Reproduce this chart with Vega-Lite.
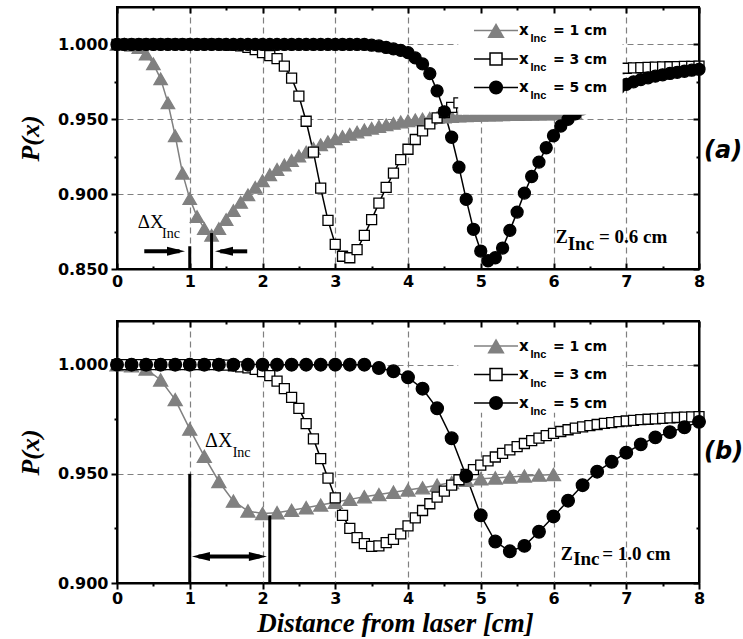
{
"$schema": "https://vega.github.io/schema/vega-lite/v6.json",
"background": "white",
"padding": {"left": 16, "top": 5, "right": 0, "bottom": 0},
"config": {
  "view": {"stroke": "black", "strokeWidth": 2},
  "axis": {"labelFont": "DejaVu Sans", "labelFontSize": 16, "labelFontWeight": "bold", "labelColor": "black", "tickColor": "black", "tickWidth": 2, "domainColor": "black", "domainWidth": 2, "gridColor": "#808080", "gridDash": [6, 4], "gridWidth": 1.2, "titleFont": "Liberation Serif", "titleFontWeight": "bold", "titleFontStyle": "italic", "titleColor": "black", "labelFlush": false, "labelOverlap": false},
  "text": {"color": "black"}
},
"datasets": {
"a": [
{"x":0,"p":1,"s":"1"},{"x":0.1,"p":1,"s":"1"},{"x":0.2,"p":0.9995,"s":"1"},{"x":0.3,"p":0.998,"s":"1"},{"x":0.4,"p":0.9935,"s":"1"},{"x":0.5,"p":0.987,"s":"1"},{"x":0.6,"p":0.977,"s":"1"},{"x":0.7,"p":0.961,"s":"1"},{"x":0.8,"p":0.939,"s":"1"},{"x":0.9,"p":0.914,"s":"1"},{"x":1,"p":0.897,"s":"1"},{"x":1.1,"p":0.885,"s":"1"},{"x":1.2,"p":0.877,"s":"1"},{"x":1.3,"p":0.8725,"s":"1"},{"x":1.4,"p":0.877,"s":"1"},{"x":1.5,"p":0.883,"s":"1"},{"x":1.6,"p":0.889,"s":"1"},{"x":1.7,"p":0.8945,"s":"1"},{"x":1.8,"p":0.8995,"s":"1"},{"x":1.9,"p":0.9045,"s":"1"},{"x":2,"p":0.909,"s":"1"},{"x":2.1,"p":0.913,"s":"1"},{"x":2.2,"p":0.9165,"s":"1"},{"x":2.3,"p":0.9195,"s":"1"},{"x":2.4,"p":0.9225,"s":"1"},{"x":2.5,"p":0.9255,"s":"1"},{"x":2.6,"p":0.928,"s":"1"},{"x":2.7,"p":0.9305,"s":"1"},{"x":2.8,"p":0.933,"s":"1"},{"x":2.9,"p":0.935,"s":"1"},{"x":3,"p":0.937,"s":"1"},{"x":3.1,"p":0.9385,"s":"1"},{"x":3.2,"p":0.94,"s":"1"},{"x":3.3,"p":0.9415,"s":"1"},{"x":3.4,"p":0.943,"s":"1"},{"x":3.5,"p":0.944,"s":"1"},{"x":3.6,"p":0.9452,"s":"1"},{"x":3.7,"p":0.9463,"s":"1"},{"x":3.8,"p":0.9473,"s":"1"},{"x":3.9,"p":0.9482,"s":"1"},{"x":4,"p":0.949,"s":"1"},{"x":4.1,"p":0.9496,"s":"1"},{"x":4.2,"p":0.9502,"s":"1"},{"x":4.3,"p":0.9507,"s":"1"},{"x":4.4,"p":0.9511,"s":"1"},{"x":4.5,"p":0.9515,"s":"1"},{"x":4.6,"p":0.9518,"s":"1"},{"x":4.7,"p":0.9521,"s":"1"},{"x":4.8,"p":0.9523,"s":"1"},{"x":4.9,"p":0.9525,"s":"1"},{"x":5,"p":0.9527,"s":"1"},{"x":5.1,"p":0.9528,"s":"1"},{"x":5.2,"p":0.9529,"s":"1"},{"x":5.3,"p":0.953,"s":"1"},{"x":5.4,"p":0.9531,"s":"1"},{"x":5.5,"p":0.9532,"s":"1"},{"x":5.6,"p":0.9533,"s":"1"},{"x":5.7,"p":0.9534,"s":"1"},{"x":5.8,"p":0.9535,"s":"1"},{"x":5.9,"p":0.9535,"s":"1"},{"x":6,"p":0.9536,"s":"1"},{"x":6.1,"p":0.9537,"s":"1"},{"x":6.2,"p":0.9537,"s":"1"},{"x":6.3,"p":0.9538,"s":"1"},
{"x":0,"p":1,"s":"3"},{"x":0.1,"p":1,"s":"3"},{"x":0.2,"p":1,"s":"3"},{"x":0.3,"p":1,"s":"3"},{"x":0.4,"p":1,"s":"3"},{"x":0.5,"p":1,"s":"3"},{"x":0.6,"p":1,"s":"3"},{"x":0.7,"p":1,"s":"3"},{"x":0.8,"p":1,"s":"3"},{"x":0.9,"p":1,"s":"3"},{"x":1,"p":1,"s":"3"},{"x":1.1,"p":1,"s":"3"},{"x":1.2,"p":1,"s":"3"},{"x":1.3,"p":1,"s":"3"},{"x":1.4,"p":1,"s":"3"},{"x":1.5,"p":0.9998,"s":"3"},{"x":1.6,"p":0.9995,"s":"3"},{"x":1.7,"p":0.999,"s":"3"},{"x":1.8,"p":0.998,"s":"3"},{"x":1.9,"p":0.9965,"s":"3"},{"x":2,"p":0.9945,"s":"3"},{"x":2.1,"p":0.9925,"s":"3"},{"x":2.2,"p":0.9905,"s":"3"},{"x":2.3,"p":0.9855,"s":"3"},{"x":2.4,"p":0.9775,"s":"3"},{"x":2.5,"p":0.9655,"s":"3"},{"x":2.6,"p":0.9487,"s":"3"},{"x":2.7,"p":0.928,"s":"3"},{"x":2.8,"p":0.904,"s":"3"},{"x":2.9,"p":0.8825,"s":"3"},{"x":3,"p":0.8665,"s":"3"},{"x":3.1,"p":0.8585,"s":"3"},{"x":3.2,"p":0.8575,"s":"3"},{"x":3.3,"p":0.863,"s":"3"},{"x":3.4,"p":0.8725,"s":"3"},{"x":3.5,"p":0.883,"s":"3"},{"x":3.6,"p":0.894,"s":"3"},{"x":3.7,"p":0.9045,"s":"3"},{"x":3.8,"p":0.914,"s":"3"},{"x":3.9,"p":0.923,"s":"3"},{"x":4,"p":0.93,"s":"3"},{"x":4.1,"p":0.9365,"s":"3"},{"x":4.2,"p":0.9422,"s":"3"},{"x":4.3,"p":0.947,"s":"3"},{"x":4.4,"p":0.951,"s":"3"},{"x":4.5,"p":0.9545,"s":"3"},{"x":4.6,"p":0.958,"s":"3"},{"x":4.7,"p":0.961,"s":"3"},{"x":4.8,"p":0.9635,"s":"3"},{"x":4.9,"p":0.966,"s":"3"},{"x":5,"p":0.968,"s":"3"},{"x":5.1,"p":0.97,"s":"3"},{"x":5.2,"p":0.9717,"s":"3"},{"x":5.3,"p":0.9732,"s":"3"},{"x":5.4,"p":0.9746,"s":"3"},{"x":5.5,"p":0.9759,"s":"3"},{"x":5.6,"p":0.977,"s":"3"},{"x":5.7,"p":0.978,"s":"3"},{"x":5.8,"p":0.9789,"s":"3"},{"x":5.9,"p":0.9797,"s":"3"},{"x":6,"p":0.9804,"s":"3"},{"x":6.1,"p":0.981,"s":"3"},{"x":6.2,"p":0.9816,"s":"3"},{"x":6.3,"p":0.9821,"s":"3"},{"x":6.4,"p":0.9825,"s":"3"},{"x":6.5,"p":0.9829,"s":"3"},{"x":6.6,"p":0.9832,"s":"3"},{"x":6.7,"p":0.9835,"s":"3"},{"x":6.8,"p":0.9837,"s":"3"},{"x":6.9,"p":0.9839,"s":"3"},{"x":7,"p":0.9841,"s":"3"},{"x":7.1,"p":0.9843,"s":"3"},{"x":7.2,"p":0.9845,"s":"3"},{"x":7.3,"p":0.9847,"s":"3"},{"x":7.4,"p":0.9849,"s":"3"},{"x":7.5,"p":0.985,"s":"3"},{"x":7.6,"p":0.9851,"s":"3"},{"x":7.7,"p":0.9852,"s":"3"},{"x":7.8,"p":0.9853,"s":"3"},{"x":7.9,"p":0.9854,"s":"3"},{"x":8,"p":0.9855,"s":"3"},
{"x":0,"p":1,"s":"5"},{"x":0.1,"p":1,"s":"5"},{"x":0.2,"p":1,"s":"5"},{"x":0.3,"p":1,"s":"5"},{"x":0.4,"p":1,"s":"5"},{"x":0.5,"p":1,"s":"5"},{"x":0.6,"p":1,"s":"5"},{"x":0.7,"p":1,"s":"5"},{"x":0.8,"p":1,"s":"5"},{"x":0.9,"p":1,"s":"5"},{"x":1,"p":1,"s":"5"},{"x":1.1,"p":1,"s":"5"},{"x":1.2,"p":1,"s":"5"},{"x":1.3,"p":1,"s":"5"},{"x":1.4,"p":1,"s":"5"},{"x":1.5,"p":1,"s":"5"},{"x":1.6,"p":1,"s":"5"},{"x":1.7,"p":1,"s":"5"},{"x":1.8,"p":1,"s":"5"},{"x":1.9,"p":1,"s":"5"},{"x":2,"p":1,"s":"5"},{"x":2.1,"p":1,"s":"5"},{"x":2.2,"p":1,"s":"5"},{"x":2.3,"p":1,"s":"5"},{"x":2.4,"p":1,"s":"5"},{"x":2.5,"p":1,"s":"5"},{"x":2.6,"p":1,"s":"5"},{"x":2.7,"p":1,"s":"5"},{"x":2.8,"p":1,"s":"5"},{"x":2.9,"p":1,"s":"5"},{"x":3,"p":1,"s":"5"},{"x":3.1,"p":1,"s":"5"},{"x":3.2,"p":1,"s":"5"},{"x":3.3,"p":1,"s":"5"},{"x":3.4,"p":1,"s":"5"},{"x":3.5,"p":0.9995,"s":"5"},{"x":3.6,"p":0.999,"s":"5"},{"x":3.7,"p":0.998,"s":"5"},{"x":3.8,"p":0.997,"s":"5"},{"x":3.9,"p":0.996,"s":"5"},{"x":4,"p":0.9945,"s":"5"},{"x":4.1,"p":0.991,"s":"5"},{"x":4.2,"p":0.987,"s":"5"},{"x":4.3,"p":0.9805,"s":"5"},{"x":4.4,"p":0.969,"s":"5"},{"x":4.5,"p":0.955,"s":"5"},{"x":4.6,"p":0.938,"s":"5"},{"x":4.7,"p":0.918,"s":"5"},{"x":4.8,"p":0.8965,"s":"5"},{"x":4.9,"p":0.8765,"s":"5"},{"x":5,"p":0.862,"s":"5"},{"x":5.1,"p":0.8555,"s":"5"},{"x":5.2,"p":0.8575,"s":"5"},{"x":5.3,"p":0.864,"s":"5"},{"x":5.4,"p":0.8758,"s":"5"},{"x":5.5,"p":0.888,"s":"5"},{"x":5.6,"p":0.9007,"s":"5"},{"x":5.7,"p":0.9118,"s":"5"},{"x":5.8,"p":0.9214,"s":"5"},{"x":5.9,"p":0.931,"s":"5"},{"x":6,"p":0.939,"s":"5"},{"x":6.1,"p":0.9455,"s":"5"},{"x":6.2,"p":0.95,"s":"5"},{"x":6.3,"p":0.9536,"s":"5"},{"x":6.4,"p":0.957,"s":"5"},{"x":6.5,"p":0.96,"s":"5"},{"x":6.6,"p":0.963,"s":"5"},{"x":6.7,"p":0.966,"s":"5"},{"x":6.8,"p":0.9685,"s":"5"},{"x":6.9,"p":0.971,"s":"5"},{"x":7,"p":0.9733,"s":"5"},{"x":7.1,"p":0.975,"s":"5"},{"x":7.2,"p":0.9765,"s":"5"},{"x":7.3,"p":0.9777,"s":"5"},{"x":7.4,"p":0.9788,"s":"5"},{"x":7.5,"p":0.9797,"s":"5"},{"x":7.6,"p":0.9806,"s":"5"},{"x":7.7,"p":0.9814,"s":"5"},{"x":7.8,"p":0.9821,"s":"5"},{"x":7.9,"p":0.9828,"s":"5"},{"x":8,"p":0.9834,"s":"5"}
],
"b": [
{"x":0,"p":1,"s":"1"},{"x":0.2,"p":0.9995,"s":"1"},{"x":0.4,"p":0.998,"s":"1"},{"x":0.6,"p":0.993,"s":"1"},{"x":0.8,"p":0.984,"s":"1"},{"x":1,"p":0.9705,"s":"1"},{"x":1.2,"p":0.958,"s":"1"},{"x":1.4,"p":0.9465,"s":"1"},{"x":1.6,"p":0.9375,"s":"1"},{"x":1.8,"p":0.933,"s":"1"},{"x":2,"p":0.9318,"s":"1"},{"x":2.2,"p":0.9322,"s":"1"},{"x":2.4,"p":0.9333,"s":"1"},{"x":2.6,"p":0.9345,"s":"1"},{"x":2.8,"p":0.9357,"s":"1"},{"x":3,"p":0.937,"s":"1"},{"x":3.2,"p":0.9383,"s":"1"},{"x":3.4,"p":0.9395,"s":"1"},{"x":3.6,"p":0.9405,"s":"1"},{"x":3.8,"p":0.9416,"s":"1"},{"x":4,"p":0.9426,"s":"1"},{"x":4.2,"p":0.9436,"s":"1"},{"x":4.4,"p":0.9448,"s":"1"},{"x":4.6,"p":0.946,"s":"1"},{"x":4.8,"p":0.947,"s":"1"},{"x":5,"p":0.9477,"s":"1"},{"x":5.2,"p":0.9481,"s":"1"},{"x":5.4,"p":0.9485,"s":"1"},{"x":5.6,"p":0.949,"s":"1"},{"x":5.8,"p":0.9494,"s":"1"},{"x":6,"p":0.9497,"s":"1"},
{"x":0,"p":1,"s":"3"},{"x":0.1,"p":1,"s":"3"},{"x":0.2,"p":1,"s":"3"},{"x":0.3,"p":1,"s":"3"},{"x":0.4,"p":1,"s":"3"},{"x":0.5,"p":1,"s":"3"},{"x":0.6,"p":1,"s":"3"},{"x":0.7,"p":1,"s":"3"},{"x":0.8,"p":1,"s":"3"},{"x":0.9,"p":1,"s":"3"},{"x":1,"p":1,"s":"3"},{"x":1.1,"p":1,"s":"3"},{"x":1.2,"p":1,"s":"3"},{"x":1.3,"p":1,"s":"3"},{"x":1.4,"p":1,"s":"3"},{"x":1.5,"p":0.9998,"s":"3"},{"x":1.6,"p":0.9995,"s":"3"},{"x":1.7,"p":0.999,"s":"3"},{"x":1.8,"p":0.9985,"s":"3"},{"x":1.9,"p":0.9978,"s":"3"},{"x":2,"p":0.9968,"s":"3"},{"x":2.1,"p":0.995,"s":"3"},{"x":2.2,"p":0.9925,"s":"3"},{"x":2.3,"p":0.989,"s":"3"},{"x":2.4,"p":0.985,"s":"3"},{"x":2.5,"p":0.98,"s":"3"},{"x":2.6,"p":0.973,"s":"3"},{"x":2.7,"p":0.966,"s":"3"},{"x":2.8,"p":0.957,"s":"3"},{"x":2.9,"p":0.948,"s":"3"},{"x":3,"p":0.939,"s":"3"},{"x":3.1,"p":0.931,"s":"3"},{"x":3.2,"p":0.925,"s":"3"},{"x":3.3,"p":0.9208,"s":"3"},{"x":3.4,"p":0.918,"s":"3"},{"x":3.5,"p":0.9168,"s":"3"},{"x":3.6,"p":0.917,"s":"3"},{"x":3.7,"p":0.9185,"s":"3"},{"x":3.8,"p":0.92,"s":"3"},{"x":3.9,"p":0.9225,"s":"3"},{"x":4,"p":0.9262,"s":"3"},{"x":4.1,"p":0.9298,"s":"3"},{"x":4.2,"p":0.9332,"s":"3"},{"x":4.3,"p":0.9363,"s":"3"},{"x":4.4,"p":0.9393,"s":"3"},{"x":4.5,"p":0.9421,"s":"3"},{"x":4.6,"p":0.9448,"s":"3"},{"x":4.7,"p":0.9473,"s":"3"},{"x":4.8,"p":0.9497,"s":"3"},{"x":4.9,"p":0.9519,"s":"3"},{"x":5,"p":0.954,"s":"3"},{"x":5.1,"p":0.9559,"s":"3"},{"x":5.2,"p":0.9577,"s":"3"},{"x":5.3,"p":0.9594,"s":"3"},{"x":5.4,"p":0.961,"s":"3"},{"x":5.5,"p":0.9625,"s":"3"},{"x":5.6,"p":0.9639,"s":"3"},{"x":5.7,"p":0.9652,"s":"3"},{"x":5.8,"p":0.9664,"s":"3"},{"x":5.9,"p":0.9675,"s":"3"},{"x":6,"p":0.9685,"s":"3"},{"x":6.1,"p":0.9694,"s":"3"},{"x":6.2,"p":0.9702,"s":"3"},{"x":6.3,"p":0.9709,"s":"3"},{"x":6.4,"p":0.9715,"s":"3"},{"x":6.5,"p":0.9721,"s":"3"},{"x":6.6,"p":0.9726,"s":"3"},{"x":6.7,"p":0.9731,"s":"3"},{"x":6.8,"p":0.9735,"s":"3"},{"x":6.9,"p":0.9739,"s":"3"},{"x":7,"p":0.9742,"s":"3"},{"x":7.1,"p":0.9745,"s":"3"},{"x":7.2,"p":0.9748,"s":"3"},{"x":7.3,"p":0.975,"s":"3"},{"x":7.4,"p":0.9752,"s":"3"},{"x":7.5,"p":0.9754,"s":"3"},{"x":7.6,"p":0.9756,"s":"3"},{"x":7.7,"p":0.9758,"s":"3"},{"x":7.8,"p":0.976,"s":"3"},{"x":7.9,"p":0.9761,"s":"3"},{"x":8,"p":0.9762,"s":"3"},
{"x":0,"p":1,"s":"5"},{"x":0.2,"p":1,"s":"5"},{"x":0.4,"p":1,"s":"5"},{"x":0.6,"p":1,"s":"5"},{"x":0.8,"p":1,"s":"5"},{"x":1,"p":1,"s":"5"},{"x":1.2,"p":1,"s":"5"},{"x":1.4,"p":1,"s":"5"},{"x":1.6,"p":1,"s":"5"},{"x":1.8,"p":1,"s":"5"},{"x":2,"p":1,"s":"5"},{"x":2.2,"p":1,"s":"5"},{"x":2.4,"p":1,"s":"5"},{"x":2.6,"p":1,"s":"5"},{"x":2.8,"p":1,"s":"5"},{"x":3,"p":1,"s":"5"},{"x":3.2,"p":1,"s":"5"},{"x":3.4,"p":1,"s":"5"},{"x":3.6,"p":0.9985,"s":"5"},{"x":3.8,"p":0.997,"s":"5"},{"x":4,"p":0.9942,"s":"5"},{"x":4.2,"p":0.989,"s":"5"},{"x":4.4,"p":0.98,"s":"5"},{"x":4.6,"p":0.9663,"s":"5"},{"x":4.8,"p":0.949,"s":"5"},{"x":5,"p":0.931,"s":"5"},{"x":5.2,"p":0.919,"s":"5"},{"x":5.4,"p":0.9145,"s":"5"},{"x":5.6,"p":0.917,"s":"5"},{"x":5.8,"p":0.9235,"s":"5"},{"x":6,"p":0.9305,"s":"5"},{"x":6.2,"p":0.9377,"s":"5"},{"x":6.4,"p":0.9448,"s":"5"},{"x":6.6,"p":0.951,"s":"5"},{"x":6.8,"p":0.9555,"s":"5"},{"x":7,"p":0.9597,"s":"5"},{"x":7.2,"p":0.9635,"s":"5"},{"x":7.4,"p":0.9667,"s":"5"},{"x":7.6,"p":0.9691,"s":"5"},{"x":7.8,"p":0.9713,"s":"5"},{"x":8,"p":0.9738,"s":"5"}
]
},
"spacing": 52,
"bounds": "flush",
"vconcat": [
{
  "width": 582, "height": 262,
  "data": {"name": "a"},
  "resolve": {"axis": {"x": "independent", "y": "independent"}},
  "layer": [
    {"mark": {"type": "line", "strokeWidth": 1.5},
     "encoding": {
       "x": {"field": "x", "type": "quantitative", "scale": {"domain": [0, 8], "nice": false},
             "axis": {"orient": "bottom", "values": [0,0.5,1,1.5,2,2.5,3,3.5,4,4.5,5,5.5,6,6.5,7,7.5,8], "labelExpr": "datum.value % 1 === 0 ? format(datum.value, 'd') : ''", "tickSize": {"condition": {"test": "datum.value % 1 === 0", "value": -6}, "value": -3}, "labelPadding": 10, "grid": true, "gridOpacity": {"condition": {"test": "datum.value % 1 === 0 && datum.value > 0 && datum.value < 8", "value": 1}, "value": 0}, "title": null}},
       "y": {"field": "p", "type": "quantitative", "scale": {"domain": [0.85, 1.025], "nice": false, "zero": false},
             "axis": {"orient": "left", "values": [0.85,0.875,0.9,0.925,0.95,0.975,1.0], "labelExpr": "abs(datum.value*20 - round(datum.value*20)) < 0.01 ? format(datum.value, '.3f') : ''", "tickSize": {"condition": {"test": "abs(datum.value*20 - round(datum.value*20)) < 0.01", "value": 6}, "value": 3}, "labelPadding": 3, "grid": true, "gridOpacity": {"condition": {"test": "abs(datum.value*20 - round(datum.value*20)) < 0.01 && datum.value > 0.86", "value": 1}, "value": 0}, "title": "P(x)", "titleFontSize": 26, "titlePadding": 14}},
       "detail": {"field": "s", "type": "nominal"},
       "stroke": {"condition": {"test": "datum.s === '1'", "value": "#808080"}, "value": "#000000"}
     }},
    {"mark": {"type": "point", "opacity": 1, "fillOpacity": 1, "strokeWidth": 1.3},
     "encoding": {
       "x": {"field": "x", "type": "quantitative", "scale": {"domain": [0, 8], "nice": false},
             "axis": {"orient": "top", "values": [0,0.5,1,1.5,2,2.5,3,3.5,4,4.5,5,5.5,6,6.5,7,7.5,8], "labels": false, "tickSize": {"condition": {"test": "datum.value % 1 === 0", "value": -6}, "value": -3}, "grid": false, "title": null, "zindex": 1}},
       "y": {"field": "p", "type": "quantitative", "scale": {"domain": [0.85, 1.025], "nice": false, "zero": false},
             "axis": {"orient": "right", "values": [0.85,0.875,0.9,0.925,0.95,0.975,1.0], "labels": false, "tickSize": {"condition": {"test": "abs(datum.value*20 - round(datum.value*20)) < 0.01", "value": -6}, "value": -3}, "grid": false, "title": null, "zindex": 1}},
       "shape": {"field": "s", "type": "nominal", "scale": {"domain": ["1","3","5"], "range": ["triangle-up","square","circle"]}, "legend": null},
       "fill": {"condition": [{"test": "datum.s === '1'", "value": "#808080"}, {"test": "datum.s === '3'", "value": "#ffffff"}], "value": "#000000"},
       "stroke": {"condition": {"test": "datum.s === '1'", "value": "#808080"}, "value": "#000000"},
       "size": {"condition": [{"test": "datum.s === '1'", "value": 180}, {"test": "datum.s === '3'", "value": 100}], "value": 144}
     }},
    {"data": {"values": [{}]},
     "mark": {"type": "rect", "fill": "white"},
     "encoding": {
       "x": {"datum": 4.69, "type": "quantitative", "scale": {"domain": [0, 8], "nice": false}, "axis": null},
       "x2": {"datum": 6.95},
       "y": {"datum": 0.953, "type": "quantitative", "scale": {"domain": [0.85, 1.025], "nice": false, "zero": false}, "axis": null},
       "y2": {"datum": 1.025}
     }},
    {"data": {"values": [{}]}, "mark": {"type": "rule", "strokeWidth": 1.5, "color": "#808080"},
     "encoding": {"x": {"datum": 4.907, "type": "quantitative", "axis": null}, "x2": {"datum": 5.512}, "y": {"datum": 1.0093, "type": "quantitative", "axis": null}}},
    {"data": {"values": [{}]}, "mark": {"type": "rule", "strokeWidth": 1.5, "color": "#000000"},
     "encoding": {"x": {"datum": 4.907, "type": "quantitative", "axis": null}, "x2": {"datum": 5.512}, "y": {"datum": 0.99027, "type": "quantitative", "axis": null}}},
    {"data": {"values": [{}]}, "mark": {"type": "rule", "strokeWidth": 1.5, "color": "#000000"},
     "encoding": {"x": {"datum": 4.907, "type": "quantitative", "axis": null}, "x2": {"datum": 5.512}, "y": {"datum": 0.97123, "type": "quantitative", "axis": null}}},
    {"data": {"values": [{}]}, "mark": {"type": "point", "shape": "triangle-up", "size": 300, "filled": true, "color": "#808080", "opacity": 1},
     "encoding": {"x": {"datum": 5.21, "type": "quantitative", "axis": null}, "y": {"datum": 1.0093, "type": "quantitative", "axis": null}}},
    {"data": {"values": [{}]}, "mark": {"type": "point", "shape": "square", "size": 144, "fill": "#ffffff", "stroke": "#000000", "strokeWidth": 1.5, "opacity": 1, "fillOpacity": 1},
     "encoding": {"x": {"datum": 5.21, "type": "quantitative", "axis": null}, "y": {"datum": 0.99027, "type": "quantitative", "axis": null}}},
    {"data": {"values": [{}]}, "mark": {"type": "point", "shape": "circle", "size": 200, "filled": true, "color": "#000000", "opacity": 1},
     "encoding": {"x": {"datum": 5.21, "type": "quantitative", "axis": null}, "y": {"datum": 0.97123, "type": "quantitative", "axis": null}}},
    {"data": {"values": [{}]},
     "mark": {"type": "text", "text": ["x", "x", "x"], "lineHeight": 28.5, "font": "DejaVu Sans", "fontWeight": "bold", "fontSize": 15, "align": "left", "baseline": "alphabetic"},
     "encoding": {"x": {"datum": 5.526, "type": "quantitative", "axis": null}, "y": {"datum": 1.006, "type": "quantitative", "axis": null}}},
    {"data": {"values": [{}]},
     "mark": {"type": "text", "text": ["Inc", "Inc", "Inc"], "lineHeight": 28.5, "font": "Liberation Sans", "fontWeight": "bold", "fontSize": 11, "align": "left", "baseline": "alphabetic"},
     "encoding": {"x": {"datum": 5.684, "type": "quantitative", "axis": null}, "y": {"datum": 1.0013, "type": "quantitative", "axis": null}}},
    {"data": {"values": [{}]},
     "mark": {"type": "text", "text": ["= 1 cm", "= 3 cm", "= 5 cm"], "lineHeight": 28.5, "font": "DejaVu Sans", "fontWeight": "bold", "fontSize": 14, "align": "left", "baseline": "alphabetic"},
     "encoding": {"x": {"datum": 5.993, "type": "quantitative", "axis": null}, "y": {"datum": 1.006, "type": "quantitative", "axis": null}}},
    {"data": {"values": [{}]},
     "mark": {"type": "text", "text": "ΔX", "font": "Liberation Serif", "fontSize": 19, "align": "left", "baseline": "alphabetic"},
     "encoding": {"x": {"datum": 0.285, "type": "quantitative", "axis": null}, "y": {"datum": 0.8771, "type": "quantitative", "axis": null}}},
    {"data": {"values": [{}]},
     "mark": {"type": "text", "text": "Inc", "font": "Liberation Serif", "fontSize": 14, "align": "left", "baseline": "alphabetic"},
     "encoding": {"x": {"datum": 0.62, "type": "quantitative", "axis": null}, "y": {"datum": 0.8704, "type": "quantitative", "axis": null}}},
    {"data": {"values": [{}]},
     "mark": {"type": "rule", "strokeWidth": 4, "color": "black"},
     "encoding": {"x": {"datum": 0.375, "type": "quantitative", "axis": null}, "x2": {"datum": 0.86}, "y": {"datum": 0.8618, "type": "quantitative", "axis": null}}},
    {"data": {"values": [{}]},
     "mark": {"type": "point", "shape": "M0,0L-6,-1.5L-6,1.5Z", "size": 36, "filled": true, "fill": "black", "strokeWidth": 0, "opacity": 1},
     "encoding": {"x": {"datum": 0.935, "type": "quantitative", "axis": null}, "y": {"datum": 0.8618, "type": "quantitative", "axis": null}}},
    {"data": {"values": [{}]},
     "mark": {"type": "rule", "strokeWidth": 4, "color": "black"},
     "encoding": {"x": {"datum": 1.42, "type": "quantitative", "axis": null}, "x2": {"datum": 1.79}, "y": {"datum": 0.8618, "type": "quantitative", "axis": null}}},
    {"data": {"values": [{}]},
     "mark": {"type": "point", "shape": "M0,0L6,-1.5L6,1.5Z", "size": 36, "filled": true, "fill": "black", "strokeWidth": 0, "opacity": 1},
     "encoding": {"x": {"datum": 1.347, "type": "quantitative", "axis": null}, "y": {"datum": 0.8618, "type": "quantitative", "axis": null}}},
    {"data": {"values": [{}]},
     "mark": {"type": "rule", "strokeWidth": 3, "color": "black"},
     "encoding": {"x": {"datum": 1.0, "type": "quantitative", "axis": null}, "y": {"datum": 0.85, "type": "quantitative", "axis": null}, "y2": {"datum": 0.8652}}},
    {"data": {"values": [{}]},
     "mark": {"type": "rule", "strokeWidth": 3, "color": "black"},
     "encoding": {"x": {"datum": 1.3, "type": "quantitative", "axis": null}, "y": {"datum": 0.85, "type": "quantitative", "axis": null}, "y2": {"datum": 0.874}}},
    {"data": {"values": [{}]},
     "mark": {"type": "text", "text": "Z", "font": "Liberation Serif", "fontWeight": "bold", "fontSize": 18, "align": "left", "baseline": "alphabetic"},
     "encoding": {"x": {"datum": 6.03, "type": "quantitative", "axis": null}, "y": {"datum": 0.8671, "type": "quantitative", "axis": null}}},
    {"data": {"values": [{}]},
     "mark": {"type": "text", "text": "Inc", "font": "Liberation Serif", "fontWeight": "bold", "fontSize": 19, "align": "left", "baseline": "alphabetic"},
     "encoding": {"x": {"datum": 6.195, "type": "quantitative", "axis": null}, "y": {"datum": 0.8625, "type": "quantitative", "axis": null}}},
    {"data": {"values": [{}]},
     "mark": {"type": "text", "text": "= 0.6 cm", "font": "Liberation Serif", "fontWeight": "bold", "fontSize": 19, "align": "left", "baseline": "alphabetic"},
     "encoding": {"x": {"datum": 6.625, "type": "quantitative", "axis": null}, "y": {"datum": 0.8671, "type": "quantitative", "axis": null}}},
    {"data": {"values": [{}]},
     "mark": {"type": "text", "text": "(a)", "font": "DejaVu Sans", "fontWeight": "bold", "fontStyle": "italic", "fontSize": 24, "align": "left", "baseline": "middle", "dx": 5},
     "encoding": {"x": {"datum": 8, "type": "quantitative", "axis": null}, "y": {"datum": 0.9291, "type": "quantitative", "axis": null}}}
  ]
},
{
  "width": 582, "height": 262,
  "data": {"name": "b"},
  "resolve": {"axis": {"x": "independent", "y": "independent"}},
  "layer": [
    {"mark": {"type": "line", "strokeWidth": 1.5},
     "encoding": {
       "x": {"field": "x", "type": "quantitative", "scale": {"domain": [0, 8], "nice": false},
             "axis": {"orient": "bottom", "values": [0,0.5,1,1.5,2,2.5,3,3.5,4,4.5,5,5.5,6,6.5,7,7.5,8], "labelExpr": "datum.value % 1 === 0 ? format(datum.value, 'd') : ''", "tickSize": {"condition": {"test": "datum.value % 1 === 0", "value": 6}, "value": 3}, "labelPadding": 1, "grid": true, "gridOpacity": {"condition": {"test": "datum.value % 1 === 0 && datum.value > 0 && datum.value < 8", "value": 1}, "value": 0}, "title": "Distance from laser [cm]", "titleFontSize": 27, "titlePadding": 4, "titleX": 278}},
       "y": {"field": "p", "type": "quantitative", "scale": {"domain": [0.9, 1.02], "nice": false, "zero": false},
             "axis": {"orient": "left", "values": [0.9,0.925,0.95,0.975,1.0], "labelExpr": "abs(datum.value*20 - round(datum.value*20)) < 0.01 ? format(datum.value, '.3f') : ''", "tickSize": {"condition": {"test": "abs(datum.value*20 - round(datum.value*20)) < 0.01", "value": 6}, "value": 3}, "labelPadding": 3, "grid": true, "gridOpacity": {"condition": {"test": "abs(datum.value*20 - round(datum.value*20)) < 0.01 && datum.value > 0.91", "value": 1}, "value": 0}, "title": "P(x)", "titleFontSize": 26, "titlePadding": 14}},
       "detail": {"field": "s", "type": "nominal"},
       "stroke": {"condition": {"test": "datum.s === '1'", "value": "#808080"}, "value": "#000000"}
     }},
    {"mark": {"type": "point", "opacity": 1, "fillOpacity": 1, "strokeWidth": 1.3},
     "encoding": {
       "x": {"field": "x", "type": "quantitative", "scale": {"domain": [0, 8], "nice": false},
             "axis": {"orient": "top", "values": [0,0.5,1,1.5,2,2.5,3,3.5,4,4.5,5,5.5,6,6.5,7,7.5,8], "labels": false, "tickSize": {"condition": {"test": "datum.value % 1 === 0", "value": -6}, "value": -3}, "grid": false, "title": null, "zindex": 1}},
       "y": {"field": "p", "type": "quantitative", "scale": {"domain": [0.9, 1.02], "nice": false, "zero": false},
             "axis": {"orient": "right", "values": [0.9,0.925,0.95,0.975,1.0], "labels": false, "tickSize": {"condition": {"test": "abs(datum.value*20 - round(datum.value*20)) < 0.01", "value": -6}, "value": -3}, "grid": false, "title": null, "zindex": 1}},
       "shape": {"field": "s", "type": "nominal", "scale": {"domain": ["1","3","5"], "range": ["triangle-up","square","circle"]}, "legend": null},
       "fill": {"condition": [{"test": "datum.s === '1'", "value": "#808080"}, {"test": "datum.s === '3'", "value": "#ffffff"}], "value": "#000000"},
       "stroke": {"condition": {"test": "datum.s === '1'", "value": "#808080"}, "value": "#000000"},
       "size": {"condition": [{"test": "datum.s === '1'", "value": 196}, {"test": "datum.s === '3'", "value": 100}], "value": 160}
     }},
    {"data": {"values": [{}]},
     "mark": {"type": "rect", "fill": "white"},
     "encoding": {
       "x": {"datum": 4.69, "type": "quantitative", "scale": {"domain": [0, 8], "nice": false}, "axis": null},
       "x2": {"datum": 6.95},
       "y": {"datum": 0.978, "type": "quantitative", "scale": {"domain": [0.9, 1.02], "nice": false, "zero": false}, "axis": null},
       "y2": {"datum": 1.02}
     }},
    {"data": {"values": [{}]}, "mark": {"type": "rule", "strokeWidth": 1.5, "color": "#808080"},
     "encoding": {"x": {"datum": 4.907, "type": "quantitative", "axis": null}, "x2": {"datum": 5.512}, "y": {"datum": 1.00855, "type": "quantitative", "axis": null}}},
    {"data": {"values": [{}]}, "mark": {"type": "rule", "strokeWidth": 1.5, "color": "#000000"},
     "encoding": {"x": {"datum": 4.907, "type": "quantitative", "axis": null}, "x2": {"datum": 5.512}, "y": {"datum": 0.9955, "type": "quantitative", "axis": null}}},
    {"data": {"values": [{}]}, "mark": {"type": "rule", "strokeWidth": 1.5, "color": "#000000"},
     "encoding": {"x": {"datum": 4.907, "type": "quantitative", "axis": null}, "x2": {"datum": 5.512}, "y": {"datum": 0.98244, "type": "quantitative", "axis": null}}},
    {"data": {"values": [{}]}, "mark": {"type": "point", "shape": "triangle-up", "size": 300, "filled": true, "color": "#808080", "opacity": 1},
     "encoding": {"x": {"datum": 5.21, "type": "quantitative", "axis": null}, "y": {"datum": 1.00855, "type": "quantitative", "axis": null}}},
    {"data": {"values": [{}]}, "mark": {"type": "point", "shape": "square", "size": 144, "fill": "#ffffff", "stroke": "#000000", "strokeWidth": 1.5, "opacity": 1, "fillOpacity": 1},
     "encoding": {"x": {"datum": 5.21, "type": "quantitative", "axis": null}, "y": {"datum": 0.9955, "type": "quantitative", "axis": null}}},
    {"data": {"values": [{}]}, "mark": {"type": "point", "shape": "circle", "size": 200, "filled": true, "color": "#000000", "opacity": 1},
     "encoding": {"x": {"datum": 5.21, "type": "quantitative", "axis": null}, "y": {"datum": 0.98244, "type": "quantitative", "axis": null}}},
    {"data": {"values": [{}]},
     "mark": {"type": "text", "text": ["x", "x", "x"], "lineHeight": 28.5, "font": "DejaVu Sans", "fontWeight": "bold", "fontSize": 15, "align": "left", "baseline": "alphabetic"},
     "encoding": {"x": {"datum": 5.526, "type": "quantitative", "axis": null}, "y": {"datum": 1.00626, "type": "quantitative", "axis": null}}},
    {"data": {"values": [{}]},
     "mark": {"type": "text", "text": ["Inc", "Inc", "Inc"], "lineHeight": 28.5, "font": "Liberation Sans", "fontWeight": "bold", "fontSize": 11, "align": "left", "baseline": "alphabetic"},
     "encoding": {"x": {"datum": 5.684, "type": "quantitative", "axis": null}, "y": {"datum": 1.00305, "type": "quantitative", "axis": null}}},
    {"data": {"values": [{}]},
     "mark": {"type": "text", "text": ["= 1 cm", "= 3 cm", "= 5 cm"], "lineHeight": 28.5, "font": "DejaVu Sans", "fontWeight": "bold", "fontSize": 14, "align": "left", "baseline": "alphabetic"},
     "encoding": {"x": {"datum": 5.993, "type": "quantitative", "axis": null}, "y": {"datum": 1.00626, "type": "quantitative", "axis": null}}},
    {"data": {"values": [{}]},
     "mark": {"type": "text", "text": "ΔX", "font": "Liberation Serif", "fontSize": 20, "align": "left", "baseline": "alphabetic"},
     "encoding": {"x": {"datum": 1.21, "type": "quantitative", "axis": null}, "y": {"datum": 0.9621, "type": "quantitative", "axis": null}}},
    {"data": {"values": [{}]},
     "mark": {"type": "text", "text": "Inc", "font": "Liberation Serif", "fontSize": 14, "align": "left", "baseline": "alphabetic"},
     "encoding": {"x": {"datum": 1.59, "type": "quantitative", "axis": null}, "y": {"datum": 0.9579, "type": "quantitative", "axis": null}}},
    {"data": {"values": [{}]},
     "mark": {"type": "rule", "strokeWidth": 4, "color": "black"},
     "encoding": {"x": {"datum": 1.12, "type": "quantitative", "axis": null}, "x2": {"datum": 1.96}, "y": {"datum": 0.9121, "type": "quantitative", "axis": null}}},
    {"data": {"values": [{}]},
     "mark": {"type": "point", "shape": "M0,0L6,-1.5L6,1.5Z", "size": 36, "filled": true, "fill": "black", "strokeWidth": 0, "opacity": 1},
     "encoding": {"x": {"datum": 1.03, "type": "quantitative", "axis": null}, "y": {"datum": 0.9121, "type": "quantitative", "axis": null}}},
    {"data": {"values": [{}]},
     "mark": {"type": "point", "shape": "M0,0L-6,-1.5L-6,1.5Z", "size": 36, "filled": true, "fill": "black", "strokeWidth": 0, "opacity": 1},
     "encoding": {"x": {"datum": 2.06, "type": "quantitative", "axis": null}, "y": {"datum": 0.9121, "type": "quantitative", "axis": null}}},
    {"data": {"values": [{}]},
     "mark": {"type": "rule", "strokeWidth": 3, "color": "black"},
     "encoding": {"x": {"datum": 1.0, "type": "quantitative", "axis": null}, "y": {"datum": 0.9, "type": "quantitative", "axis": null}, "y2": {"datum": 0.95}}},
    {"data": {"values": [{}]},
     "mark": {"type": "rule", "strokeWidth": 3, "color": "black"},
     "encoding": {"x": {"datum": 2.1, "type": "quantitative", "axis": null}, "y": {"datum": 0.9, "type": "quantitative", "axis": null}, "y2": {"datum": 0.931}}},
    {"data": {"values": [{}]},
     "mark": {"type": "text", "text": "Z", "font": "Liberation Serif", "fontWeight": "bold", "fontSize": 18, "align": "left", "baseline": "alphabetic"},
     "encoding": {"x": {"datum": 6.1, "type": "quantitative", "axis": null}, "y": {"datum": 0.9107, "type": "quantitative", "axis": null}}},
    {"data": {"values": [{}]},
     "mark": {"type": "text", "text": "Inc", "font": "Liberation Serif", "fontWeight": "bold", "fontSize": 19, "align": "left", "baseline": "alphabetic"},
     "encoding": {"x": {"datum": 6.27, "type": "quantitative", "axis": null}, "y": {"datum": 0.9084, "type": "quantitative", "axis": null}}},
    {"data": {"values": [{}]},
     "mark": {"type": "text", "text": "= 1.0 cm", "font": "Liberation Serif", "fontWeight": "bold", "fontSize": 19, "align": "left", "baseline": "alphabetic"},
     "encoding": {"x": {"datum": 6.67, "type": "quantitative", "axis": null}, "y": {"datum": 0.9107, "type": "quantitative", "axis": null}}},
    {"data": {"values": [{}]},
     "mark": {"type": "text", "text": "(b)", "font": "DejaVu Sans", "fontWeight": "bold", "fontStyle": "italic", "fontSize": 24, "align": "left", "baseline": "middle", "dx": 5},
     "encoding": {"x": {"datum": 8, "type": "quantitative", "axis": null}, "y": {"datum": 0.9602, "type": "quantitative", "axis": null}}}
  ]
}
]
}
